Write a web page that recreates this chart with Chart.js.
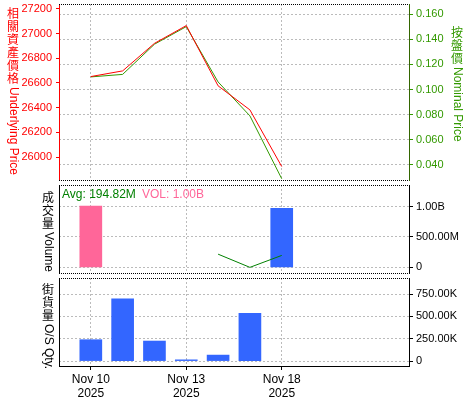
<!DOCTYPE html>
<html lang="zh-Hant">
  <head>
    <meta charset="UTF-8" />
    <title>相關資產價格 / 成交量 / 街貨量</title>
    <style>
      body { margin: 0; background: #fff; }
      #wrap { position: relative; width: 475px; height: 400px; }
      #wrap canvas { position: absolute; left: 0; top: 0; }
    </style>
  </head>
  <body>
    <div id="wrap">
      <canvas id="chartPrecio" width="475" height="400"></canvas>
      <canvas id="chartVolumen" width="475" height="400"></canvas>
      <canvas id="chartCalle" width="475" height="400"></canvas>
    </div>

    <script src="https://cdn.jsdelivr.net/npm/chart.js"></script>
    <script>
      // Datos (días hábiles, posición en el eje x)
      var dias = ['Nov 10', 'Nov 11', 'Nov 12', 'Nov 13', 'Nov 14', 'Nov 17', 'Nov 18'];
      var slots = [0, 1, 2, 3, 4, 5, 6];
      var tickSlots = [0, 3, 6];
      var anio = '2025';

      var underlying = [26652, 26698, 26921, 27065, 26577, 26382, 25923];
      var nominal = [0.110, 0.112, 0.136, 0.150, 0.106, 0.079, 0.029];
      var volume = [1.01e9, null, null, null, null, null, 0.97e9];
      var volumeAvg = [null, null, null, null, 217e6, 0, 196e6];
      var soQty = [239e3, 695e3, 224e3, 14e3, 67e3, 535e3, null];

      // marcas de los ejes
      var underlyingTicks = [26000, 26200, 26400, 26600, 26800, 27000, 27200];
      var nominalTicks = [0.04, 0.06, 0.08, 0.10, 0.12, 0.14, 0.16];
      var volumeTicks = [0, 5e8, 1e9];
      var soQtyTicks = [0, 250e3, 500e3, 750e3];

      var FONT = '"Liberation Sans", "Noto Sans CJK TC", sans-serif';
      var RED = '#ff0000';
      var GREEN = '#339900';
      var GRID = '#bbbbbb';

      function puntos(vals) {
        return slots.map(function (s, i) { return { x: s, y: vals[i] }; });
      }

      function fijarTicks(arr) {
        return function (s) {
          s.ticks = arr.map(function (v) { return { value: v }; });
        };
      }

      // texto vertical: CJK derecho, latino girado
      function textoVertical(ctx, text, x, y, color) {
        ctx.save();
        ctx.fillStyle = color;
        ctx.font = '12px ' + FONT;
        var run = '';
        function flush() {
          if (!run) return;
          ctx.save();
          ctx.translate(x, y);
          ctx.rotate(Math.PI / 2);
          ctx.textAlign = 'left';
          ctx.textBaseline = 'middle';
          ctx.fillText(run, 0, 0);
          ctx.restore();
          y += ctx.measureText(run).width;
          run = '';
        }
        for (var ch of text) {
          if (/[\u3000-\u9fff]/.test(ch)) {
            flush();
            ctx.textAlign = 'center';
            ctx.textBaseline = 'top';
            ctx.fillText(ch, x, y);
            y += 13;
          } else {
            run += ch;
          }
        }
        flush();
        ctx.restore();
      }

      var marco = {
        id: 'marco',
        afterDraw: function (chart, args, opts) {
          var ctx = chart.ctx, a = chart.chartArea;
          ctx.save();
          ctx.strokeStyle = '#000';
          ctx.lineWidth = 1;
          ctx.setLineDash([1, 1]);
          ctx.beginPath();
          ctx.moveTo(a.left, Math.round(a.top) + 0.5);
          ctx.lineTo(a.right, Math.round(a.top) + 0.5);
          if (opts.bottom) {
            ctx.moveTo(a.left, Math.round(a.bottom) + 0.5);
            ctx.lineTo(a.right, Math.round(a.bottom) + 0.5);
          }
          ctx.stroke();
          ctx.restore();
          (opts.labels || []).forEach(function (l) {
            textoVertical(ctx, l.text, l.x, l.y, l.color);
          });
          (opts.texts || []).forEach(function (t) {
            ctx.save();
            ctx.font = '12px ' + FONT;
            ctx.fillStyle = t.color;
            ctx.textAlign = 'left';
            ctx.textBaseline = 'middle';
            ctx.fillText(t.text, t.x, t.y);
            ctx.restore();
          });
        }
      };

      function ejeX(conEtiquetas) {
        return {
          type: 'linear',
          min: -1,
          max: 10,
          offset: false,
          afterBuildTicks: fijarTicks(tickSlots),
          grid: { color: GRID, offset: false, drawTicks: conEtiquetas, tickLength: 4, tickColor: '#000' },
          border: { display: conEtiquetas, color: '#000', dash: [2, 2] },
          ticks: {
            display: conEtiquetas,
            color: '#000',
            font: { size: 12, family: FONT },
            padding: 2,
            maxRotation: 0,
            autoSkip: false,
            callback: function (v) { return [dias[v], anio]; }
          },
          afterFit: function (s) {
            s.height = conEtiquetas ? 34 : 0;
            s.paddingLeft = 0; s.paddingRight = 0;
          }
        };
      }

      function ajuste(ancho) {
        return function (s) {
          s.width = ancho;
          s.paddingTop = 0;
          s.paddingBottom = 0;
        };
      }

      function ejeIzqVacio() {
        return {
          type: 'linear',
          position: 'left',
          ticks: { display: false },
          grid: { display: false },
          border: { color: '#000' },
          afterFit: ajuste(59)
        };
      }

      function ejeDer(min, max, marcas, formato, color, borde) {
        return {
          type: 'linear',
          position: 'right',
          min: min,
          max: max,
          afterBuildTicks: fijarTicks(marcas),
          ticks: {
            color: color,
            padding: 3,
            font: { size: 11, family: FONT },
            callback: formato
          },
          grid: { color: GRID, tickColor: color, tickLength: 4 },
          border: { color: borde, dash: [2, 2] },
          afterFit: ajuste(66)
        };
      }

      var base = {
        responsive: false,
        animation: false,
        events: [],
        plugins: { legend: { display: false }, tooltip: { enabled: false } }
      };

      function formatoVol(v) {
        if (v === 0) return '0';
        if (Math.abs(v) >= 1e9) return (v / 1e9).toFixed(2) + 'B';
        return (v / 1e6).toFixed(2) + 'M';
      }

      function formatoK(v) {
        if (v === 0) return '0';
        return (v / 1e3).toFixed(2) + 'K';
      }

      // Gráfico de precios
      new Chart(document.getElementById('chartPrecio'), {
        type: 'line',
        data: {
          datasets: [
            {
              data: puntos(underlying),
              yAxisID: 'yU',
              borderColor: RED,
              borderWidth: 1,
              pointRadius: 0
            },
            {
              data: puntos(nominal),
              yAxisID: 'yN',
              borderColor: GREEN,
              borderWidth: 1,
              pointRadius: 0
            }
          ]
        },
        options: Object.assign({}, base, {
          layout: { padding: { top: 4, bottom: 220, left: 0, right: 0 } },
          scales: {
            x: ejeX(false),
            yU: {
              type: 'linear',
              position: 'left',
              min: 25814,
              max: 27240,
              afterBuildTicks: fijarTicks(underlyingTicks),
              ticks: {
                color: RED,
                padding: 4,
                font: { size: 11, family: FONT },
                callback: function (v) { return String(v); }
              },
              grid: { drawOnChartArea: false, tickLength: 3, tickColor: RED, color: RED },
              border: { color: RED },
              afterFit: ajuste(59)
            },
            yN: ejeDer(0.028, 0.168, nominalTicks, function (v) { return v.toFixed(3); }, GREEN, '#336600')
          },
          plugins: Object.assign({}, base.plugins, {
            marco: {
              bottom: true,
              labels: [
                { text: '相關資產價格Underlying Price', x: 13, y: 9, color: RED },
                { text: '按盤價Nominal Price', x: 457, y: 28, color: GREEN }
              ]
            }
          })
        }),
        plugins: [marco]
      });

      // Gráfico de volumen
      new Chart(document.getElementById('chartVolumen'), {
        type: 'bar',
        data: {
          datasets: [
            {
              type: 'line',
              data: puntos(volumeAvg),
              yAxisID: 'y',
              borderColor: '#008000',
              borderWidth: 1,
              pointRadius: 0,
              order: 0
            },
            {
              data: puntos(volume),
              yAxisID: 'y',
              backgroundColor: function (c) { return c.dataIndex === 0 ? '#ff6699' : '#3366ff'; },
              barThickness: 22,
              order: 1
            }
          ]
        },
        options: Object.assign({}, base, {
          layout: { padding: { top: 185, bottom: 127, left: 0, right: 0 } },
          scales: {
            x: ejeX(false),
            yL: ejeIzqVacio(),
            y: ejeDer(-93e6, 1.355e9, volumeTicks, formatoVol, '#000', '#000')
          },
          plugins: Object.assign({}, base.plugins, {
            marco: {
              bottom: true,
              labels: [{ text: '成交量Volume', x: 48, y: 193, color: '#000' }],
              texts: [
                { text: 'Avg: 194.82M', x: 62, y: 195, color: '#008000' },
                { text: 'VOL: 1.00B', x: 142, y: 195, color: '#ff6699' }
              ]
            }
          })
        }),
        plugins: [marco]
      });

      // Gráfico de街貨量
      new Chart(document.getElementById('chartCalle'), {
        type: 'bar',
        data: {
          datasets: [
            {
              data: puntos(soQty),
              yAxisID: 'y',
              backgroundColor: '#3366ff',
              barThickness: 22
            }
          ]
        },
        options: Object.assign({}, base, {
          layout: { padding: { top: 278, bottom: 0, left: 0, right: 0 } },
          scales: {
            x: ejeX(true),
            yL: ejeIzqVacio(),
            y: ejeDer(-55e3, 929e3, soQtyTicks, formatoK, '#000', '#000')
          },
          plugins: Object.assign({}, base.plugins, {
            marco: {
              bottom: false,
              labels: [{ text: '街貨量O/S Qty.', x: 48, y: 285, color: '#000' }]
            }
          })
        }),
        plugins: [marco]
      });
    </script>
  </body>
</html>
